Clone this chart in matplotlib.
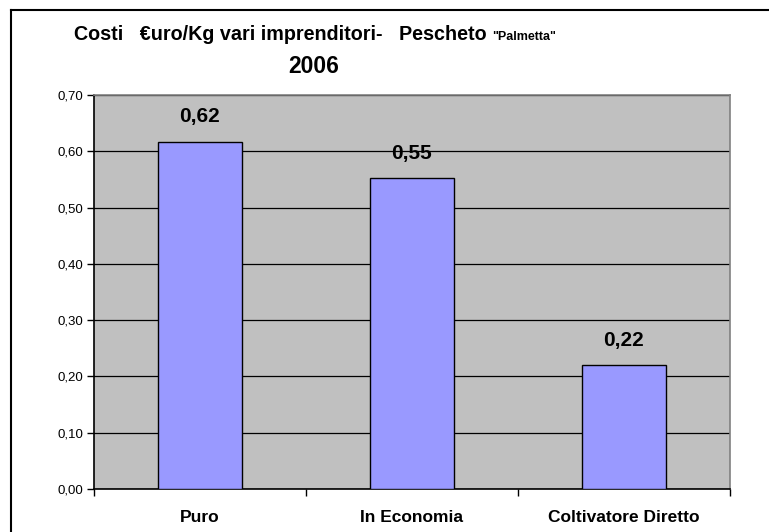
import matplotlib
matplotlib.use("Agg")
import matplotlib.pyplot as plt
from matplotlib.lines import Line2D

# ==================================
# DATA
# ==================================

categories = ["Puro", "In Economia", "Coltivatore Diretto"]
costs = [0.617, 0.552, 0.220]
cost_labels = ["0,62", "0,55", "0,22"]
y_ticks = [0.0, 0.1, 0.2, 0.3, 0.4, 0.5, 0.6, 0.7]

plt.rcParams["font.family"] = ["Liberation Sans", "DejaVu Sans"]

W, H = 769, 532
fig = plt.figure(figsize=(W / 100, H / 100), dpi=100)
fig.patch.set_facecolor("white")

# frame lines (top and left only)
fig.add_artist(Line2D([11 / W, 1], [1 - 9.5 / H, 1 - 9.5 / H], color="black", lw=1.5))
fig.add_artist(Line2D([11 / W, 11 / W], [0, 1 - 9.5 / H], color="black", lw=1.5))

# ==================================
# PLOT AREA
# ==================================

left, right, top, bottom = 94, 730, 95, 489
ax = fig.add_axes([left / W, 1 - bottom / H, (right - left) / W, (bottom - top) / H])
ax.set_facecolor("#C0C0C0")

x = list(range(len(categories)))
ax.bar(x, costs, width=0.4, color="#9999FF", edgecolor="black", linewidth=1, zorder=3)

for xi, v, lab in zip(x, costs, cost_labels):
    ax.annotate(lab, (xi, v), xytext=(0, 11), textcoords="offset points",
                ha="center", va="bottom", fontsize=15, fontweight="bold")

ax.set_xlim(-0.5, len(categories) - 0.5)
ax.set_ylim(0, 0.7)
ax.set_yticks(y_ticks)
ax.set_yticklabels([f"{t:.2f}".replace(".", ",") for t in y_ticks], fontsize=9.5)
ax.yaxis.grid(True, color="black", linewidth=0.9, zorder=1)
ax.set_axisbelow(True)

# categories centred, ticks on boundaries
ax.set_xticks([-0.5, 0.5, 1.5, 2.5])
ax.set_xticklabels([])
ax.set_xticks(x, minor=True)
ax.set_xticklabels(categories, minor=True, fontsize=12.5, fontweight="bold")
ax.tick_params(axis="x", which="minor", length=0, pad=15)
ax.tick_params(axis="x", which="major", length=5, width=1)
ax.tick_params(axis="y", length=5, width=1, pad=3)

ax.spines["left"].set_color("black")
ax.spines["bottom"].set_color("black")
ax.spines["top"].set_color("#808080")
ax.spines["right"].set_color("#808080")
for s in ax.spines.values():
    s.set_linewidth(1.2)

# ==================================
# TITLE
# ==================================

t1 = fig.text(74 / W, 1 - 40 / H, "Costi   €uro/Kg vari imprenditori-   Pescheto ",
              fontsize=14.2, fontweight="bold", ha="left", va="baseline")
fig.canvas.draw()
bb = t1.get_window_extent()
fig.text(bb.x1 / W, 1 - 40 / H, '"Palmetta"', fontsize=9, fontweight="bold",
         ha="left", va="baseline")
fig.text(314 / W, 1 - 73 / H, "2006", fontsize=16.5, fontweight="bold",
         ha="center", va="baseline")

fig.savefig("out.png", dpi=100)
